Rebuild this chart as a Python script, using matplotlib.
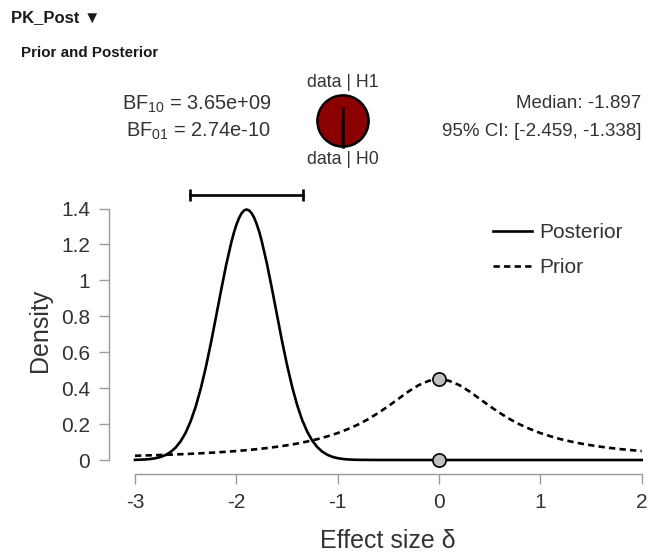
import numpy as np
import matplotlib
matplotlib.use("Agg")
import matplotlib.pyplot as plt

plt.rcParams['font.family'] = ['Liberation Sans', 'DejaVu Sans']
plt.rcParams['mathtext.fontset'] = 'custom'
plt.rcParams['mathtext.rm'] = 'Liberation Sans'

# --- values ---
prior_x = np.linspace(-3, 2, 51)
prior_y = [0.0237, 0.0253, 0.0270, 0.0289, 0.0310, 0.0333, 0.0360, 0.0389, 0.0422, 0.0458,
           0.0500, 0.0548, 0.0602, 0.0664, 0.0736, 0.0819, 0.0915, 0.103, 0.116, 0.132,
           0.150, 0.172, 0.197, 0.227, 0.262, 0.300, 0.341, 0.382, 0.417, 0.441,
           0.450,
           0.441, 0.417, 0.382, 0.341, 0.300, 0.262, 0.227, 0.197, 0.172, 0.150,
           0.132, 0.116, 0.103, 0.0915, 0.0819, 0.0736, 0.0664, 0.0602, 0.0548, 0.0500]

post_x = [-3.0, -2.95, -2.9, -2.85, -2.8, -2.75, -2.7, -2.65, -2.6, -2.55,
          -2.5, -2.45, -2.4, -2.35, -2.3, -2.25, -2.2, -2.15, -2.1, -2.05,
          -2.025, -2.0, -1.975, -1.95, -1.925, -1.9, -1.875, -1.85, -1.825, -1.8,
          -1.775, -1.75, -1.7, -1.65, -1.6, -1.55, -1.5, -1.45, -1.4, -1.35,
          -1.3, -1.25, -1.2, -1.15, -1.1, -1.05, -1.0, -0.95, -0.9, -0.85,
          -0.8, -0.6, 0.0, 1.0, 2.0]
post_y = [0.0008, 0.0016, 0.0030, 0.0055, 0.0097, 0.0165, 0.0274, 0.0440, 0.0686, 0.104,
          0.152, 0.217, 0.299, 0.400, 0.519, 0.654, 0.799, 0.946, 1.087, 1.211,
          1.264, 1.309, 1.345, 1.372, 1.389, 1.395, 1.390, 1.375, 1.350, 1.315,
          1.272, 1.220, 1.098, 0.958, 0.811, 0.665, 0.530, 0.409, 0.306, 0.222,
          0.157, 0.107, 0.0710, 0.0456, 0.0285, 0.0172, 0.0101, 0.0058, 0.0032, 0.0017,
          0.0009, 0.0001, 0.0, 0.0, 0.0]

point_x = [0.0, 0.0]
point_y = [0.450, 0.0]          # prior and posterior density at delta = 0

ci_lo, ci_hi = -2.459, -1.338
ci_height = 1.475
median = -1.897
bf10 = 3.65e+09
bf01 = 2.74e-10

W, H = 657, 553
fig = plt.figure(figsize=(W / 100, H / 100), dpi=100)


def fx(px):
    return px / W


def fy(py):
    return 1 - py / H


# main axes, placed in pixels
xppu, yppu = 101.34, 179.6
x0, x1 = -3.05, 2.05
y0, y1 = -0.05, 1.5
left_px = 135 - (-3 - x0) * xppu
ax = fig.add_axes([fx(left_px), fy(460 - y0 * yppu), (x1 - x0) * xppu / W, (y1 - y0) * yppu / H])
ax.set_xlim(x0, x1)
ax.set_ylim(y0, y1)

spine_col = '#9a9a9a'
text_col = '#333333'
for s in ['top', 'right']:
    ax.spines[s].set_visible(False)
ax.spines['left'].set_position(('outward', (left_px - 109) * 0.72))
ax.spines['bottom'].set_position(('outward', (474 - (460 - y0 * yppu)) * 0.72))
ax.spines['left'].set_bounds(0, 1.4)
ax.spines['bottom'].set_bounds(-3, 2)
for s in ['left', 'bottom']:
    ax.spines[s].set_color(spine_col)
    ax.spines[s].set_linewidth(1.0)

ax.set_xticks([-3, -2, -1, 0, 1, 2])
ax.set_xticklabels(['-3', '-2', '-1', '0', '1', '2'])
ax.set_yticks([0, 0.2, 0.4, 0.6, 0.8, 1.0, 1.2, 1.4])
ax.set_yticklabels(['0', '0.2', '0.4', '0.6', '0.8', '1', '1.2', '1.4'])
ax.tick_params(direction='out', length=7, width=1.0, color=spine_col,
               labelsize=15, labelcolor=text_col, pad=6.5)

lw = 1.9
ax.plot(post_x, post_y, color='black', lw=lw, label='Posterior', clip_on=False,
        solid_joinstyle='round')
ax.plot(prior_x, prior_y, color='black', lw=lw, linestyle=(0, (2.4, 1.6)), label='Prior',
        clip_on=False)
ax.plot(point_x, point_y, linestyle='none', marker='o', ms=9.5, mfc='#c0c0c0',
        mec='black', mew=1.2, zorder=5, clip_on=False)

# credible interval bar
ax.plot([ci_lo, ci_hi], [ci_height, ci_height], color='black', lw=1.9,
        marker='|', ms=9, mew=1.9, clip_on=False)

leg = ax.legend(loc='upper left', bbox_to_anchor=(fx(493), fy(223)),
                bbox_transform=fig.transFigure, frameon=False, fontsize=15,
                handlelength=1.85, handletextpad=0.38, labelspacing=0.78,
                borderpad=0, borderaxespad=0)
for t in leg.get_texts():
    t.set_color(text_col)

fig.text(fx(40), fy(330), 'Density', rotation=90, ha='center', va='center',
         fontsize=18, color=text_col)
fig.text(fx(388), fy(541), 'Effect size δ', ha='center', va='center',
         fontsize=18, color=text_col)

# headers
fig.text(fx(11), fy(18), 'PK_Post \u25bc', ha='left', va='center', fontsize=12,
         fontweight='bold', color='#1a1a1a')
fig.text(fx(21), fy(53), 'Prior and Posterior', ha='left', va='center', fontsize=10.9,
         fontweight='bold', color='#1a1a1a')

# Bayes factor text
fig.text(fx(197), fy(104), r'BF$_{10}$ = ' + f'{bf10:.2e}', ha='center', va='center',
         fontsize=14.4, color=text_col)
fig.text(fx(198), fy(131), r'BF$_{01}$ = ' + f'{bf01:.2e}', ha='center', va='center',
         fontsize=14.4, color=text_col)
fig.text(fx(641), fy(104), f'Median: {median:.3f}', ha='right', va='center',
         fontsize=13.5, color=text_col)
fig.text(fx(641), fy(131), f'95% CI: [{ci_lo:.3f}, {ci_hi:.3f}]', ha='right', va='center',
         fontsize=13.5, color=text_col)

# pie of evidence
pax = fig.add_axes([fx(343 - 32), fy(121 + 32), 64 / W, 64 / H])
pax.pie([bf10 / (1 + bf10), 1 / (1 + bf10)], colors=['#8b0000', 'white'],
        startangle=-90, counterclock=False,
        wedgeprops=dict(edgecolor='black', linewidth=1.8))
pax.plot([0, 0], [-1, 0.5], color='black', lw=1.8)
pax.set_aspect('equal')
fig.text(fx(343), fy(82), 'data | H1', ha='center', va='center', fontsize=12.7, color=text_col)
fig.text(fx(343), fy(159), 'data | H0', ha='center', va='center', fontsize=12.7, color=text_col)

fig.savefig('out.png', dpi=100)
